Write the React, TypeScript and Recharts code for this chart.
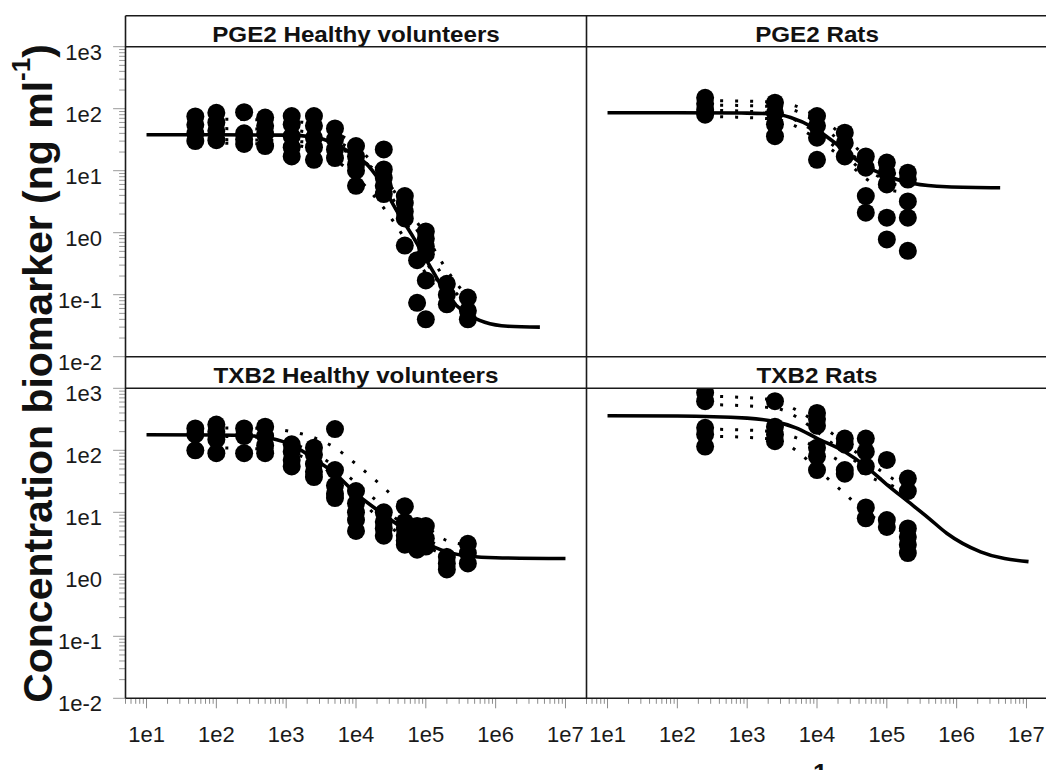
import React from "react";
import { ComposedChart, Line, Scatter, XAxis, YAxis } from "recharts";

const FONT = "'Liberation Sans', Arial, Helvetica, sans-serif";

// ---------- axis ticks ----------
const xDecades = [1, 10, 100, 1000, 10000, 100000, 1000000, 10000000];
const yDecades = [0.01, 0.1, 1, 10, 100];
const minorMult = [2, 3, 4, 5, 6, 7, 8, 9];
const xMajorTicks = [10, 100, 1000, 10000, 100000, 1000000, 10000000];
const yMajorTicks = [0.01, 0.1, 1, 10, 100, 1000];
const xDomain = [5, 2e7];
const yDomain = [0.01, 1000];

// ---------- strip titles ----------
const panelTitles = [
  "PGE2 Healthy volunteers",
  "PGE2 Rats",
  "TXB2 Healthy volunteers",
  "TXB2 Rats",
];

// ---------- doses ----------
const hvDoses = [50, 100, 250, 500, 1200, 2500, 5000, 10000, 25000, 50000, 75000, 100000, 200000, 400000];
const ratDoses = [250, 2500, 10000, 25000, 50000, 100000, 200000];

// ---------- observations (per dose) ----------
const pgeHvObs = [
  [75, 55, 40, 30],
  [86, 60, 44, 31],
  [88, 40, 32, 27],
  [72, 53, 39, 25],
  [76, 56, 36, 24, 17],
  [76, 53, 34, 24, 15],
  [48, 32, 22, 16],
  [25, 17, 12.5, 10, 5.7],
  [22, 10.5, 7.7, 5.7, 4.2],
  [3.9, 3.0, 2.2, 1.7, 0.62],
  [0.36, 0.074],
  [1.05, 0.8, 0.6, 0.45, 0.17, 0.04],
  [0.15, 0.1, 0.07],
  [0.09, 0.055, 0.04],
];
const pgeRatObs = [
  [150, 120, 95, 80],
  [125, 86, 56, 36],
  [76, 53, 34, 15],
  [41, 28, 17],
  [17, 11.2, 3.9, 2.1],
  [13.5, 9.3, 6.0, 1.75, 0.78],
  [9.3, 7.2, 3.2, 1.75, 0.51],
];
const txbHvObs = [
  [225, 180, 100],
  [260, 200, 150, 90],
  [225, 170, 90],
  [240, 170, 120, 90],
  [125, 95, 70, 55],
  [110, 85, 60, 45, 37],
  [220, 48, 27, 20, 17],
  [22, 14, 10, 7.5, 5],
  [10, 7, 5.5, 4.2],
  [12.5, 7, 5.5, 4.2, 3.5, 3.0],
  [6, 4.5, 3.2, 2.5],
  [6, 3.8, 2.8],
  [1.9, 1.5, 1.2],
  [3.1, 2.2, 1.5],
];
const txbRatObs = [
  [850, 620, 230, 180, 115],
  [620, 240, 180, 140],
  [400, 320, 250, 110, 80, 48],
  [155, 125, 48, 42],
  [155, 95, 55, 12, 8],
  [70, 7.5, 5.8],
  [35, 22, 5.5, 4, 3, 2.2],
];

// ---------- population fits (solid) ----------
const pgeHvFitX = [10, 100, 1000, 2500, 5000, 10000, 13500, 22000, 38000, 66000, 126000, 200000, 400000, 700000, 1500000, 4300000];
const pgeHvFitY = [38, 38, 37.5, 35, 27, 17, 13.5, 6.8, 2.3, 0.85, 0.24, 0.1, 0.048, 0.036, 0.031, 0.03];
const pgeRatFitX = [10, 100, 1000, 2500, 4200, 9000, 19000, 46000, 100000, 240000, 720000, 4200000];
const pgeRatFitY = [86, 86, 85, 82, 72, 49, 27, 12.6, 8.2, 6.2, 5.5, 5.3];
const txbHvFitX = [10, 100, 300, 600, 1200, 2450, 5000, 10000, 22000, 43000, 82000, 200000, 430000, 1000000, 10000000];
const txbHvFitY = [178, 177, 172, 156, 122, 74, 42, 20, 10.2, 5.9, 3.6, 2.3, 1.95, 1.85, 1.8];
const txbRatFitX = [10, 100, 1000, 2500, 5000, 10000, 25000, 50000, 100000, 200000, 400000, 720000, 2200000, 10700000];
const txbRatFitY = [360, 358, 330, 290, 230, 156, 95, 55, 28, 15, 8, 4.6, 2.3, 1.6];

// ---------- individual predictions (dotted) ----------
const hvIndX = [50, 500, 1200, 2500, 5000, 10000, 25000, 50000, 100000, 200000, 400000];
const pgeHvInd = [
  [68, 66, 63, 56, 42, 25, 8, 2.5, 0.6, 0.16, 0.07],
  [48, 47, 45, 40, 31, 19, 6, 1.6, 0.35, 0.1, 0.05],
  [32, 31, 30, 28, 24, 17, 7.5, 2.8, 0.9, 0.25, 0.09],
  [28, 27, 26, 22, 15, 8, 2.5, 0.8, 0.22, 0.08, 0.045],
];
const txbHvInd = [
  [230, 225, 200, 160, 110, 60, 25, 12, 6, 3.5, 3],
  [170, 160, 130, 90, 55, 30, 12, 6, 3.8, 2.5, 2.2],
  [110, 105, 90, 65, 38, 18, 7, 4, 2.8, 2, 1.7],
];
const ratIndX = [250, 2500, 5000, 10000, 25000, 50000, 100000, 200000];
const pgeRatInd = [
  [135, 128, 110, 75, 35, 17, 10, 8],
  [115, 108, 92, 60, 25, 11, 7, 6],
  [95, 85, 65, 40, 18, 9, 6.5, 5.5],
  [75, 68, 52, 32, 15, 7.5, 5, 4.5],
];
const txbRatInd = [
  [750, 650, 450, 280, 130, 70, 40, 25],
  [550, 480, 350, 200, 90, 50, 30, 20],
  [220, 200, 160, 110, 60, 40, 28, 20],
  [170, 150, 100, 50, 20, 10, 6.5, 4.5],
];

// ---------- helpers to build series ----------
const xTicks: number[] = [];
xDecades.forEach((d) => {
  if (d >= 10) xTicks.push(d);
  minorMult.forEach((m) => {
    const v = d * m;
    if (v >= xDomain[0] && v <= xDomain[1]) xTicks.push(v);
  });
});
const yTicks: number[] = [...yMajorTicks];
yDecades.forEach((d) => minorMult.forEach((m) => yTicks.push(d * m)));

const isMajor = (v: number, majors: number[]) => majors.some((m) => Math.abs(m - v) / m < 1e-9);
const expLabel = (v: number) => `1e${Math.round(Math.log10(v))}`;

const toPoints = (doses: number[], obs: number[][]) =>
  doses.flatMap((d, i) => obs[i].map((v) => ({ x: d, y: v })));
const toCurve = (xs: number[], ys: number[]) => xs.map((x, i) => ({ x, y: ys[i] }));

// ---------- geometry ----------
const CW = 1070;
const CH = 820;
const L0 = 125.5;
const MID = 586.5;
const R1 = 1047.5;
const T0 = 15.7;
const TP0 = 46.7;
const TP1 = 356.7;
const BP0 = 388.3;
const BP1 = 698.3;

const XTick = (props: any) => {
  const { x, y, payload } = props;
  const v = payload.value;
  const major = isMajor(v, xMajorTicks);
  return (
    <g>
      <line x1={x} x2={x} y1={y} y2={y + (major ? 10 : 5.5)} stroke="#8c8c8c" strokeWidth={1} />
      {major && (
        <text x={x} y={y + 44} textAnchor="middle" fontSize={22} fill="#1a1a1a" fontFamily={FONT}>
          {expLabel(v)}
        </text>
      )}
    </g>
  );
};

const YTick = (props: any) => {
  const { x, y, payload } = props;
  const v = payload.value;
  const major = isMajor(v, yMajorTicks);
  return (
    <g>
      <line x1={x - (major ? 12.4 : 6.4)} x2={x} y1={y} y2={y} stroke="#9a9a9a" strokeWidth={1} />
      {major && (
        <text x={x - 23.5} y={y + 12.8} textAnchor="end" fontSize={22} fill="#1a1a1a" fontFamily={FONT}>
          {expLabel(v)}
        </text>
      )}
    </g>
  );
};

const Dot = (props: any) => {
  const { cx, cy } = props;
  if (cx == null || cy == null) return null;
  return <circle cx={cx} cy={cy} r={9} fill="#000" />;
};

type PanelProps = {
  x0: number;
  x1: number;
  y0: number;
  y1: number;
  showX: boolean;
  showY: boolean;
  fit: { x: number; y: number }[];
  inds: { x: number; y: number }[][];
  obs: { x: number; y: number }[];
};

const Panel = ({ x0, x1, y0, y1, showX, showY, fit, inds, obs }: PanelProps) => {
  const yW = 80;
  const xH = 60;
  const margin = {
    left: showY ? x0 - yW : x0,
    right: CW - x1,
    top: y0,
    bottom: showX ? CH - y1 - xH : CH - y1,
  };
  return (
    <div style={{ position: "absolute", left: 0, top: 0 }}>
      <ComposedChart width={CW} height={CH} margin={margin}>
        <XAxis
          type="number"
          dataKey="x"
          scale="log"
          domain={xDomain}
          allowDataOverflow
          ticks={xTicks}
          interval={0}
          tick={XTick}
          tickLine={false}
          axisLine={false}
          tickSize={0}
          tickMargin={0}
          height={xH}
          hide={!showX}
        />
        <YAxis
          type="number"
          dataKey="y"
          scale="log"
          domain={yDomain}
          allowDataOverflow
          ticks={yTicks}
          interval={0}
          tick={YTick}
          tickLine={false}
          axisLine={false}
          tickSize={0}
          tickMargin={0}
          width={yW}
          hide={!showY}
        />
        {inds.map((d, i) => (
          <Line
            key={`ind${i}`}
            data={d}
            dataKey="y"
            type="monotone"
            stroke="#000"
            strokeWidth={3}
            strokeDasharray="3 12"
            dot={false}
            activeDot={false}
            isAnimationActive={false}
          />
        ))}
        <Line
          data={fit}
          dataKey="y"
          type="monotone"
          stroke="#000"
          strokeWidth={3.6}
          dot={false}
          activeDot={false}
          isAnimationActive={false}
        />
        <Scatter data={obs} shape={Dot} isAnimationActive={false} />
      </ComposedChart>
    </div>
  );
};

const StripText = ({ cx, y, text }: { cx: number; y: number; text: string }) => (
  <text
    transform={`translate(${cx},${y}) scale(1.1,1)`}
    textAnchor="middle"
    fontSize={22}
    fontWeight="bold"
    fill="#111"
    fontFamily={FONT}
  >
    {text}
  </text>
);

export default function App() {
  const frame = "#1a1a1a";
  return (
    <div
      style={{
        position: "absolute",
        left: 0,
        top: 0,
        width: 1046,
        height: 770,
        overflow: "hidden",
        background: "#fff",
      }}
    >
      <Panel
        x0={L0}
        x1={MID}
        y0={TP0}
        y1={TP1}
        showX={false}
        showY={true}
        fit={toCurve(pgeHvFitX, pgeHvFitY)}
        inds={pgeHvInd.map((ys) => toCurve(hvIndX, ys))}
        obs={toPoints(hvDoses, pgeHvObs)}
      />
      <Panel
        x0={MID}
        x1={R1}
        y0={TP0}
        y1={TP1}
        showX={false}
        showY={false}
        fit={toCurve(pgeRatFitX, pgeRatFitY)}
        inds={pgeRatInd.map((ys) => toCurve(ratIndX, ys))}
        obs={toPoints(ratDoses, pgeRatObs)}
      />
      <Panel
        x0={L0}
        x1={MID}
        y0={BP0}
        y1={BP1}
        showX={true}
        showY={true}
        fit={toCurve(txbHvFitX, txbHvFitY)}
        inds={txbHvInd.map((ys) => toCurve(hvIndX, ys))}
        obs={toPoints(hvDoses, txbHvObs)}
      />
      <Panel
        x0={MID}
        x1={R1}
        y0={BP0}
        y1={BP1}
        showX={true}
        showY={false}
        fit={toCurve(txbRatFitX, txbRatFitY)}
        inds={txbRatInd.map((ys) => toCurve(ratIndX, ys))}
        obs={toPoints(ratDoses, txbRatObs)}
      />
      <svg
        width={CW}
        height={CH}
        style={{ position: "absolute", left: 0, top: 0, pointerEvents: "none" }}
      >
        {/* frame lines */}
        <g stroke={frame} strokeWidth={1.6} fill="none">
          <line x1={L0} x2={R1} y1={T0} y2={T0} />
          <line x1={L0} x2={R1} y1={TP0} y2={TP0} />
          <line x1={L0} x2={R1} y1={TP1} y2={TP1} />
          <line x1={L0} x2={R1} y1={BP0} y2={BP0} />
          <line x1={L0} x2={R1} y1={BP1} y2={BP1} />
          <line x1={L0} x2={L0} y1={T0} y2={BP1} />
          <line x1={MID} x2={MID} y1={T0} y2={BP1} />
          <line x1={R1} x2={R1} y1={T0} y2={BP1} />
        </g>
        <StripText cx={(L0 + MID) / 2} y={41.7} text={panelTitles[0]} />
        <StripText cx={(MID + R1) / 2} y={41.7} text={panelTitles[1]} />
        <StripText cx={(L0 + MID) / 2} y={383.3} text={panelTitles[2]} />
        <StripText cx={(MID + R1) / 2} y={383.3} text={panelTitles[3]} />
        {/* y-axis title */}
        <text
          transform="translate(51.7,373.5) rotate(-90)"
          textAnchor="middle"
          fontSize={41}
          fontWeight="bold"
          fill="#111"
          fontFamily={FONT}
        >
          Concentration biomarker (ng ml
          <tspan fontSize={26} dy={-22}>
            -1
          </tspan>
          <tspan dy={22}>)</tspan>
        </text>
        {/* x-axis title: like the reference, it sits almost entirely below the visible area */}
        <text
          x={841}
          y={803.6}
          textAnchor="end"
          fontSize={41}
          fontWeight="bold"
          fill="#111"
          fontFamily={FONT}
        >
          Concentration drug (ng ml
          <tspan fontSize={26} dy={-22}>
            -1
          </tspan>
          <tspan dy={22}>)</tspan>
        </text>
      </svg>
    </div>
  );
}
